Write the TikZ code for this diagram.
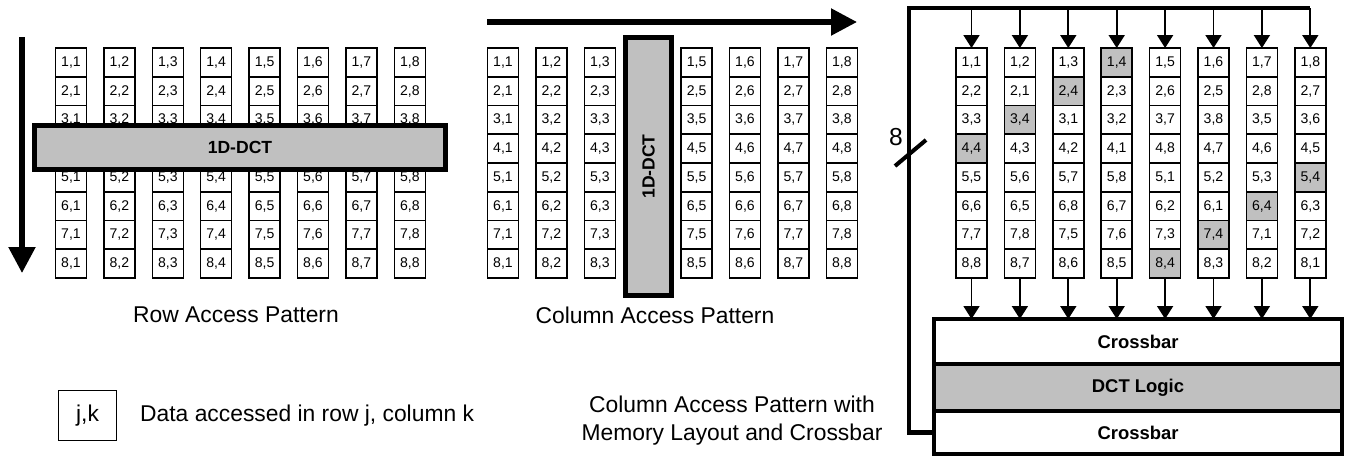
\documentclass[tikz,border=0pt]{standalone}
\usepackage{fontspec}
\setmainfont{Liberation Sans}
\definecolor{CellGray}{HTML}{C0C0C0}
\usetikzlibrary{arrows.meta,positioning}
\tikzset{
  cell/.style={draw=black, line width=0.9pt, fill=white, minimum width=0.62cm, minimum height=0.575cm, inner sep=0pt, outer sep=0pt, font=\fontsize{8}{9}\selectfont},
  dctbar/.style={draw=black, line width=2.6pt, fill=CellGray, inner sep=0pt, outer sep=0pt, font=\fontsize{10}{12}\selectfont\bfseries},
  block/.style={draw=black, line width=2.6pt, fill=white, minimum width=8.16cm, inner sep=0pt, outer sep=0pt, font=\fontsize{10.5}{12}\selectfont\bfseries},
  bigarrow/.style={-{Triangle[length=0.52cm,width=0.52cm]}, line width=3pt},
  arrow/.style={-{Triangle[length=0.26cm,width=0.32cm]}, line width=1pt},
  bus/.style={line width=2.3pt},
  label/.style={font=\fontsize{13}{16}\selectfont}
}

\begin{document}
\begin{tikzpicture}[x=0.02cm, y=-0.02cm]
  \useasboundingbox (0,0) rectangle (1348,457);
  % row access pattern
  \foreach \r in {1,2,3,5,6,7,8}
    \foreach \c in {1,...,8}
      \node[cell] (L-\r-\c) at ({71+48.4*(\c-1)},{62.4+28.75*(\r-1)}) {\r,\c};
  \node[dctbar, minimum width=8.22cm, minimum height=0.88cm] (rowdct) at (240,147.5) {1D-DCT};
  \coordinate (rowtop) at (22,37);
  \coordinate (rowend) at (22,273);
  \draw[bigarrow] (rowtop) -- (rowend);
  \node[label] (rowcap) at (236,315) {Row Access Pattern};

  % column access pattern
  \foreach \r in {1,...,8}
    \foreach \c in {1,2,3,5,6,7,8}
      \node[cell] (M-\r-\c) at ({503+48.4*(\c-1)},{62.4+28.75*(\r-1)}) {\r,\c};
  \node[dctbar, rotate=90, minimum width=5.16cm, minimum height=0.92cm] (coldct) at (648.5,166.5) {1D-DCT};
  \coordinate (colstart) at (487,22);
  \coordinate (colend) at (857,22);
  \draw[bigarrow] (colstart) -- (colend);
  \node[label] (colcap) at (655,315) {Column Access Pattern};

  % memory layout with crossbar
  \foreach \r/\vals in {1/{1,2,3,4,5,6,7,8}, 2/{2,1,4,3,6,5,8,7}, 3/{3,4,1,2,7,8,5,6}, 4/{4,3,2,1,8,7,6,5},
                        5/{5,6,7,8,1,2,3,4}, 6/{6,5,8,7,2,1,4,3}, 7/{7,8,5,6,3,4,1,2}, 8/{8,7,6,5,4,3,2,1}}
    \foreach \v [count=\c] in \vals {
      \ifnum\v=4 \def\cellfill{CellGray}\else\def\cellfill{white}\fi
      \node[cell, fill=\cellfill] (R-\r-\c) at ({971.5+48.4*(\c-1)},{62.4+28.75*(\r-1)}) {\r,\v};
    }
  \node[block, minimum height=0.9cm] (xbarA) at (1138,341.5) {Crossbar};
  \node[block, fill=CellGray, minimum height=0.94cm, below=0pt of xbarA] (dctlogic) {DCT Logic};
  \node[block, minimum height=0.86cm, below=0pt of dctlogic] (xbarB) {Crossbar};
  \foreach \c in {1,...,8} {
    \coordinate (bus-\c) at ({971.5+48.4*(\c-1)},8);
    \draw[arrow] (bus-\c) -- (R-1-\c.north);
    \draw[arrow] (R-8-\c.south) -- (R-8-\c.south |- xbarA.north);
  }
  \draw[bus] (xbarB.west) -- ++(-25,0) |- (bus-8);
  \coordinate (busslash) at (910,153);
  \draw[bus] (busslash) ++(-15,13) -- ++(31,-26);
  \node[label, font=\fontsize{14}{16}\selectfont] (buswidth) at (896,137) {8};
  \node[label, align=center] (memcap) at (732,421) {Column Access Pattern with\\Memory Layout and Crossbar};

  % legend
  \node[cell, font=\fontsize{13}{16}\selectfont, minimum width=1.16cm, minimum height=1.0cm] (keybox) at (87.5,415.5) {j,k};
  \node[label, right=0.35cm of keybox] (keytext) {Data accessed in row j, column k};
\end{tikzpicture}
\end{document}
